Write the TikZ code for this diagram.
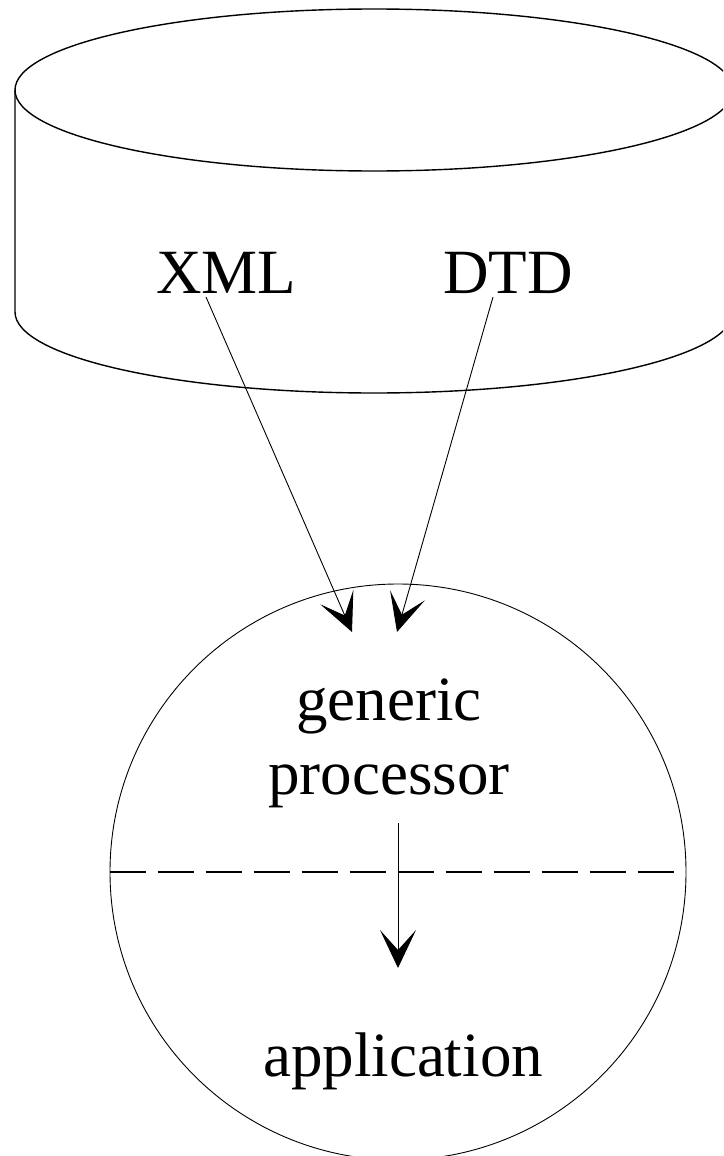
\documentclass[tikz,border=0pt]{standalone}
\usepackage{fontspec}
\setmainfont{Liberation Serif}
\usetikzlibrary{arrows.meta,calc}
\begin{document}
\begin{tikzpicture}[x=1pt,y=-1pt,
  cyl/.style={line width=1.4pt},
  lbl/.style={font=\fontsize{63}{74}\selectfont, inner sep=0pt},
  arr/.style={line width=0.9pt, -{Stealth[length=38pt,width=36pt,inset=20pt]}},
  divider/.style={line width=1.1pt, dash pattern=on 36pt off 12pt},
  ball/.style={draw, circle, line width=0.9pt, minimum size=576pt, inner sep=0pt}]
\useasboundingbox (0,0) rectangle (723,1156);
\clip (0,0) rectangle (723,1156);
% cylinder
\draw[cyl] (374,90) ellipse [x radius=359pt, y radius=81pt];
\draw[cyl] (15,90) -- (15,312) arc[start angle=180, end angle=360, x radius=359pt, y radius=81pt] -- (733,90);
% labels in cylinder
\node[lbl, anchor=base] (xml) at (226,293) {XML};
\node[lbl, anchor=base] (dtd) at (508,293) {DTD};
% processor circle
\node[ball] (proc) at (398,872) {};
\node[lbl, anchor=base, align=center] (gp) at (389,794) {generic\\processor};
\node[lbl, anchor=base] (app) at (403,1076) {application};
\draw[divider] (proc.west) -- ($(proc.east)+(-12,0)$);
% arrows
\coordinate (t1) at (352,632);
\coordinate (t2) at (397,632);
\draw[arr] ($(xml.base)+(-20,4)$) -- (t1);
\draw[arr] ($(dtd.base)+(-15,4)$) -- (t2);
\draw[arr] ($(proc.center)+(0,-49)$) -- ($(proc.center)+(0,96)$);
\end{tikzpicture}
\end{document}
